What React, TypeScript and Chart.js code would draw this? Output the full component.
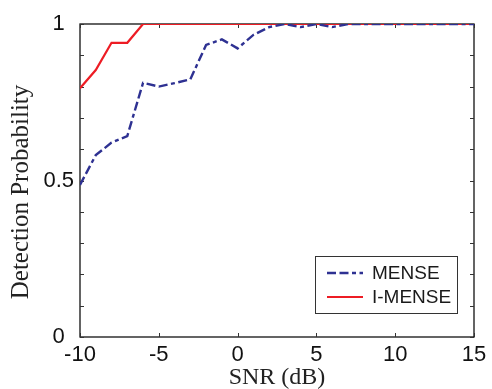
import React, { useEffect, useRef } from 'react';
import { Chart, registerables } from 'chart.js';

Chart.register(...registerables);

const snr = [-10, -9, -8, -7, -6, -5, -4, -3, -2, -1, 0, 1, 2, 3, 4, 5, 6, 7, 8, 9, 10, 11, 12, 13, 14, 15];
const mense = [0.486, 0.581, 0.621, 0.642, 0.812, 0.8, 0.811, 0.823, 0.933, 0.951, 0.922, 0.965, 0.99, 1.0, 0.99, 1.0, 0.99, 1, 1, 1, 1, 1, 1, 1, 1, 1];
const imense = [0.795, 0.853, 0.94, 0.94, 1, 1, 1, 1, 1, 1, 1, 1, 1, 1, 1, 1, 1, 1, 1, 1, 1, 1, 1, 1, 1, 1];
const seriesNames = ['MENSE', 'I-MENSE'];
const yLabelValues = [0, 0.5, 1];
const xTitle = 'SNR (dB)';
const yTitle = 'Detection Probability';

const BLUE = '#2e3192';
const RED = '#ed1c24';

const framePlugin = {
  id: 'matlabFrame',
  beforeDatasetsDraw(chart: any) {
    const { ctx, chartArea: a, scales } = chart;
    const xs = scales.x;
    const ys = scales.y;
    ctx.save();
    ctx.strokeStyle = '#111';
    ctx.lineWidth = 1.3;
    ctx.strokeRect(a.left, a.top, a.right - a.left, a.bottom - a.top);
    ctx.lineWidth = 1;
    ctx.strokeStyle = '#333';
    const tl = 4;
    ctx.beginPath();
    ys.ticks.forEach((t: any) => {
      const py = Math.round(ys.getPixelForValue(t.value)) + 0.5;
      ctx.moveTo(a.left, py);
      ctx.lineTo(a.left + tl, py);
      ctx.moveTo(a.right, py);
      ctx.lineTo(a.right - tl, py);
    });
    xs.ticks.forEach((t: any) => {
      const px = Math.round(xs.getPixelForValue(t.value)) + 0.5;
      ctx.moveTo(px, a.bottom);
      ctx.lineTo(px, a.bottom - tl);
      ctx.moveTo(px, a.top);
      ctx.lineTo(px, a.top + tl);
    });
    ctx.stroke();
    ctx.restore();
  },
  afterDraw(chart: any) {
    const { ctx, chartArea: a } = chart;
    ctx.save();
    // axis titles
    ctx.fillStyle = '#222';
    ctx.textAlign = 'center';
    ctx.textBaseline = 'middle';
    ctx.font = '24px "Liberation Serif", "Times New Roman", serif';
    ctx.fillText(xTitle, (a.left + a.right) / 2, 378);
    ctx.save();
    ctx.translate(21, 192);
    ctx.rotate(-Math.PI / 2);
    ctx.font = '25px "Liberation Serif", "Times New Roman", serif';
    ctx.fillText(yTitle, 0, 0);
    ctx.restore();

    // legend
    const bx = 315.5, by = 256.5, bw = 142, bh = 57;
    ctx.fillStyle = '#fff';
    ctx.fillRect(bx, by, bw, bh);
    ctx.strokeStyle = '#333';
    ctx.lineWidth = 1;
    ctx.strokeRect(bx, by, bw, bh);
    chart.data.datasets.forEach((ds: any, i: number) => {
      const ly = 273 + i * 24;
      ctx.save();
      ctx.strokeStyle = ds.borderColor;
      ctx.lineWidth = ds.borderWidth;
      ctx.setLineDash(ds.borderDash || []);
      ctx.beginPath();
      ctx.moveTo(327, ly);
      ctx.lineTo(363, ly);
      ctx.stroke();
      ctx.restore();
      ctx.fillStyle = '#1a1a1a';
      ctx.textAlign = 'left';
      ctx.textBaseline = 'middle';
      ctx.font = '19px "Liberation Sans", Arial, sans-serif';
      ctx.fillText(ds.label, 372, ly + 1);
    });
    ctx.restore();
  },
};

export default function App() {
  const ref = useRef<HTMLCanvasElement | null>(null);
  useEffect(() => {
    if (!ref.current) return;
    const tickFont = { family: '"Liberation Sans", Arial, sans-serif', size: 22 };
    const chart = new Chart(ref.current, {
      type: 'line',
      data: {
        datasets: [
          {
            label: seriesNames[0],
            data: snr.map((x, i) => ({ x, y: mense[i] })),
            borderColor: BLUE,
            borderWidth: 2.4,
            borderDash: [9, 3.5, 9, 3.5, 4, 3.5],
            pointRadius: 0,
            fill: false,
            tension: 0,
          },
          {
            label: seriesNames[1],
            data: snr.map((x, i) => ({ x, y: imense[i] })),
            borderColor: RED,
            borderWidth: 2.2,
            pointRadius: 0,
            fill: false,
            tension: 0,
          },
        ],
      },
      options: {
        responsive: false,
        animation: false,
        devicePixelRatio: 1,
        layout: { padding: { top: 24, right: 18, left: 0, bottom: 0 } },
        plugins: {
          legend: { display: false },
          tooltip: { enabled: false },
        },
        scales: {
          x: {
            type: 'linear',
            min: -10,
            max: 15,
            border: { display: false },
            grid: { display: false, drawTicks: false },
            ticks: {
              stepSize: 5,
              padding: 5,
              color: '#111',
              font: tickFont,
              maxRotation: 0,
              autoSkip: false,
            },
            afterFit: (s: any) => {
              s.height = 52;
            },
          },
          y: {
            type: 'linear',
            min: 0,
            max: 1,
            border: { display: false },
            grid: { display: false, drawTicks: false },
            ticks: {
              stepSize: 0.1,
              padding: 6,
              color: '#111',
              font: tickFont,
              autoSkip: false,
              crossAlign: 'center',
              callback: (v: any) => {
                const n = Number(v);
                const hit = yLabelValues.find((l) => Math.abs(l - n) < 1e-6);
                return hit === undefined ? '' : String(hit);
              },
            },
            afterFit: (s: any) => {
              s.width = 80;
            },
          },
        },
      },
      plugins: [framePlugin],
    } as any);
    return () => chart.destroy();
  }, []);
  return (
    <div style={{ position: 'absolute', left: 0, top: 0, width: 492, height: 389, background: '#fff' }}>
      <canvas ref={ref} width={492} height={389} style={{ display: 'block' }} />
    </div>
  );
}
